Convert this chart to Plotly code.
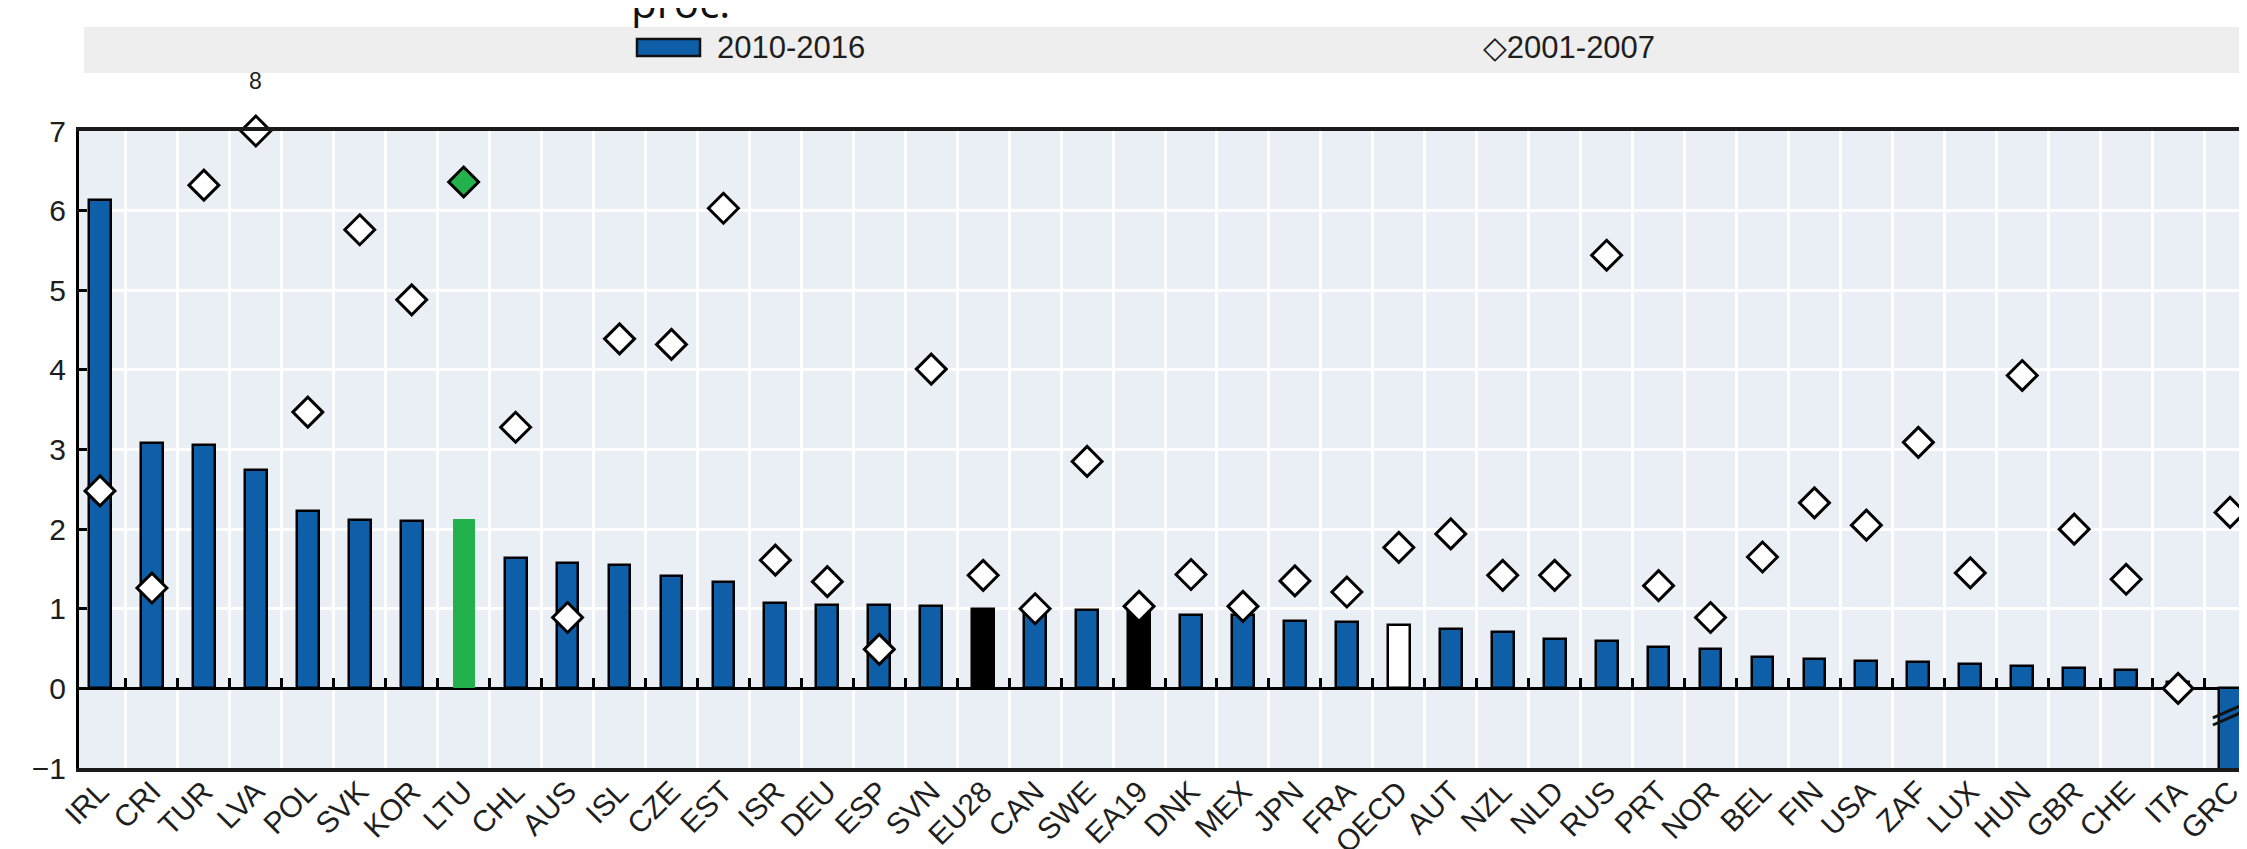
import numpy as np
import plotly.graph_objects as go

# ---------------- data ----------------
countries = ["IRL", "CRI", "TUR", "LVA", "POL", "SVK", "KOR", "LTU", "CHL", "AUS",
             "ISL", "CZE", "EST", "ISR", "DEU", "ESP", "SVN", "EU28", "CAN", "SWE",
             "EA19", "DNK", "MEX", "JPN", "FRA", "OECD", "AUT", "NZL", "NLD", "RUS",
             "PRT", "NOR", "BEL", "FIN", "USA", "ZAF", "LUX", "HUN", "GBR", "CHE",
             "ITA", "GRC"]

growth_2010_2016 = [6.13, 3.08, 3.06, 2.74, 2.23, 2.12, 2.10, 2.13, 1.64, 1.58,
                    1.55, 1.41, 1.34, 1.07, 1.05, 1.05, 1.04, 1.00, 0.99, 0.99,
                    0.98, 0.92, 0.92, 0.85, 0.83, 0.79, 0.75, 0.71, 0.62, 0.59,
                    0.52, 0.50, 0.39, 0.37, 0.34, 0.33, 0.30, 0.28, 0.25, 0.23,
                    0.08, -1.6]

growth_2001_2007 = [2.48, 1.26, 6.32, 8.0, 3.47, 5.76, 4.88, 6.36, 3.28, 0.89,
                    4.39, 4.32, 6.03, 1.61, 1.34, 0.49, 4.01, 1.42, 1.00, 2.85,
                    1.03, 1.43, 1.03, 1.35, 1.21, 1.77, 1.94, 1.42, 1.42, 5.44,
                    1.29, 0.89, 1.65, 2.33, 2.05, 3.09, 1.45, 3.93, 2.00, 1.37,
                    0.0, 2.21]

highlight = ["LTU"]
aggregates_black = ["EU28", "EA19"]
aggregates_white = ["OECD"]

y_ticks = [-1, 0, 1, 2, 3, 4, 5, 6, 7]
legend_bar_label = "2010-2016"
legend_marker_label = "2001-2007"
title_fragment = "proc."

# ---------------- styling ----------------
W, H = 2247, 849
ML, MR, MT, MB = 71, 0, 123, 89
PW, PH = W - ML - MR, H - MT - MB
BLUE = "#0F5FA8"
GREEN = "#22B14C"
PLOT_BG = "#EAEEF5"
FONT = "Liberation Sans, Arial, sans-serif"
TXT = "#1E1E1E"

y_lo, y_hi = min(y_ticks), max(y_ticks)
n = len(countries)
xpos = list(range(n))
x_lo, x_hi = -0.404, n - 1 + 0.48


def pxx(px):
    return (px - ML) / PW


def pxy(py):
    return (H - MB - py) / PH


bar_colors = []
bar_line_w = []
marker_fill = []
for c in countries:
    if c in highlight:
        bar_colors.append(GREEN)
        bar_line_w.append(0)
        marker_fill.append(GREEN)
    elif c in aggregates_black:
        bar_colors.append("#000000")
        bar_line_w.append(2.5)
        marker_fill.append("#FFFFFF")
    elif c in aggregates_white:
        bar_colors.append("#FFFFFF")
        bar_line_w.append(2.5)
        marker_fill.append("#FFFFFF")
    else:
        bar_colors.append(BLUE)
        bar_line_w.append(2.5)
        marker_fill.append("#FFFFFF")

v16 = np.array(growth_2010_2016)
v01 = np.array(growth_2001_2007)

fig = go.Figure()

# helper trace for the zero-line axis (ticks at y=0)
fig.add_trace(go.Scatter(x=xpos, y=v16, xaxis="x2", mode="none",
                         hoverinfo="skip", showlegend=False))

fig.add_trace(go.Bar(
    x=xpos, y=v16, width=0.42, name=legend_bar_label,
    marker=dict(color=bar_colors, line=dict(color="#000000", width=bar_line_w)),
    showlegend=False,
))

fig.add_trace(go.Scatter(
    x=xpos, y=np.minimum(v01, y_hi), mode="markers", name=legend_marker_label,
    marker=dict(symbol="diamond", size=23, color=marker_fill,
                line=dict(color="#000000", width=3)),
    cliponaxis=False, showlegend=False,
))

annotations = []
shapes = []

# values beyond the top of the scale
for i, v in enumerate(v01):
    if v > y_hi:
        annotations.append(dict(x=xpos[i], y=y_hi, xref="x", yref="y", text=f"{v:g}",
                                showarrow=False, yshift=50,
                                font=dict(family=FONT, size=23, color=TXT)))

# break marks on bars that go below the scale
for i, v in enumerate(v16):
    if v < y_lo:
        for off in (0.0, 0.09):
            shapes.append(dict(type="line", xref="x", yref="y",
                               x0=xpos[i] - 0.33, x1=xpos[i] + 0.33,
                               y0=-0.46 + off, y1=-0.27 + off,
                               line=dict(color="#111111", width=3), layer="above"))

# legend band and legend items
shapes.append(dict(type="rect", xref="paper", yref="paper",
                   x0=pxx(76), x1=1.0, y0=pxy(65), y1=pxy(19),
                   fillcolor="#EEEEEE", line=dict(width=0), layer="below"))
shapes.append(dict(type="rect", xref="paper", yref="paper",
                   x0=pxx(629), x1=pxx(692), y0=pxy(48), y1=pxy(31),
                   fillcolor=BLUE, line=dict(color="#111111", width=2.5)))
annotations.append(dict(x=pxx(707), y=pxy(39), xref="paper", yref="paper",
                        xanchor="left", yanchor="middle", showarrow=False,
                        text=legend_bar_label, font=dict(family=FONT, size=31, color=TXT)))
annotations.append(dict(x=pxx(1473), y=pxy(39), xref="paper", yref="paper",
                        xanchor="left", yanchor="middle", showarrow=False,
                        text="<span style='font-family:DejaVu Sans;font-weight:bold'>◇</span>" + legend_marker_label,
                        font=dict(family=FONT, size=31, color=TXT)))
annotations.append(dict(x=pxx(621), y=pxy(24), xref="paper", yref="paper",
                        xanchor="left", yanchor="bottom", showarrow=False,
                        text=title_fragment, font=dict(family="Open Sans", size=42, color="#111111")))

fig.update_layout(
    width=W, height=H,
    margin=dict(l=ML, r=MR, t=MT, b=MB, autoexpand=False),
    paper_bgcolor="#FFFFFF", plot_bgcolor=PLOT_BG,
    showlegend=False, bargap=0,
    font=dict(family=FONT, size=28, color=TXT),
    annotations=annotations, shapes=shapes,
    xaxis=dict(
        range=[x_lo, x_hi], tickmode="array", tickvals=xpos, ticktext=countries,
        tickangle=-45, ticks="", showgrid=False, zeroline=False,
        showline=True, linecolor="#1a1a1a", linewidth=4, mirror=True,
        ticklabelstandoff=-10,
        tickfont=dict(family=FONT, size=30, color=TXT),
        minor=dict(tickmode="array", tickvals=[i + 0.5 for i in xpos[:-1]],
                   showgrid=True, gridcolor="#FFFFFF", gridwidth=3, ticks=""),
    ),
    xaxis2=dict(
        overlaying="x", matches="x", anchor="free", position=(0 - y_lo) / (y_hi - y_lo),
        range=[x_lo, x_hi], tickmode="array", tickvals=[i + 0.5 for i in xpos[:-1]],
        ticks="inside", ticklen=9, tickwidth=3, tickcolor="#000000",
        showticklabels=False, showgrid=False, zeroline=False,
        showline=True, linecolor="#000000", linewidth=3, layer="below traces",
    ),
    yaxis=dict(
        range=[y_lo, y_hi], tickmode="array", tickvals=y_ticks,
        ticks="inside", ticklen=8, tickwidth=2.5, tickcolor="#000000",
        showgrid=True, gridcolor="#FFFFFF", gridwidth=3, zeroline=False,
        showline=True, linecolor="#000000", linewidth=3,
        ticklabelstandoff=4,
        tickfont=dict(family=FONT, size=30, color=TXT),
    ),
)

fig.write_html("out.html")
